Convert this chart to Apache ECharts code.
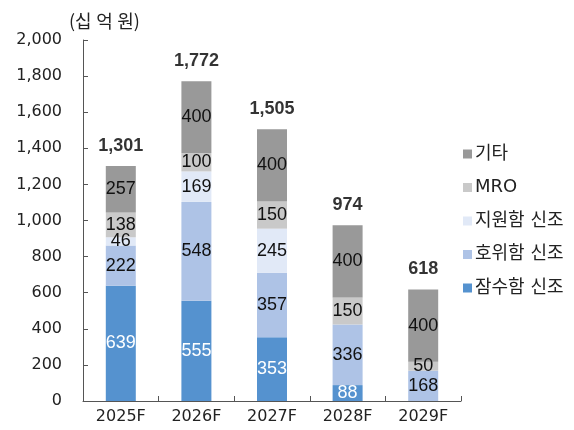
<!DOCTYPE html>
<html>
<head>
<meta charset="utf-8">
<script src="https://cdn.jsdelivr.net/npm/echarts@6/dist/echarts.min.js"></script>
<style>
  html, body { margin: 0; padding: 0; background: #fff; }
  #chart { width: 574px; height: 430px; }
</style>
</head>
<body>
<div id="chart"></div>
<script>
// 연도별 카테고리
var years = ['2025F', '2026F', '2027F', '2028F', '2029F'];

// 시리즈별 값 (십억원)
var submarine = [639, 555, 353, 88, 0];
var frigate = [222, 548, 357, 336, 168];
var support = [46, 169, 245, 0, 0];
var mro = [138, 100, 150, 150, 50];
var etc = [257, 400, 400, 400, 400];
var totals = [1301, 1772, 1505, 974, 618];

var axisFont = 'DejaVu Sans, Noto Sans CJK KR, sans-serif';
var labelFont = 'Liberation Sans, Arial, sans-serif';

var myChart = echarts.init(document.getElementById('chart'));

function seg(name, data, color, labelColor) {
  return {
    name: name,
    type: 'bar',
    stack: 'total',
    barWidth: 30,
    data: data,
    itemStyle: { color: color },
    label: {
      show: true,
      position: 'inside',
      color: labelColor,
      fontSize: 18,
      fontFamily: labelFont,
      formatter: function (p) { return p.value ? p.value : ''; }
    }
  };
}

var option = {
  animation: false,
  grid: { left: 83, right: 113, top: 40, bottom: 29, containLabel: false },
  title: {
    text: '(십\u2005억\u2005원)',
    left: 69,
    top: 12,
    padding: 0,
    textStyle: { fontSize: 18, fontWeight: 'normal', color: '#222', fontFamily: 'Noto Sans CJK KR, sans-serif' }
  },
  legend: {
    orient: 'vertical',
    left: 463,
    top: 145,
    padding: 0,
    itemWidth: 9,
    itemHeight: 9,
    itemGap: 15.5,
    icon: 'rect',
    textStyle: { fontSize: 18, color: '#222', fontFamily: axisFont, padding: [0, 0, 0, -2] },
    data: ['기타', 'MRO', '지원함 신조', '호위함 신조', '잠수함 신조']
  },
  xAxis: {
    type: 'category',
    data: years,
    axisLine: { lineStyle: { color: '#555' } },
    axisTick: { show: true, inside: true, length: 5, lineStyle: { color: '#555' } },
    axisLabel: { fontSize: 16, color: '#222', fontFamily: axisFont, margin: 8 }
  },
  yAxis: {
    type: 'value',
    min: 0,
    max: 2000,
    interval: 200,
    splitLine: { show: false },
    axisLine: { show: true, lineStyle: { color: '#555' } },
    axisTick: { show: true, inside: true, length: 5, lineStyle: { color: '#555' } },
    axisLabel: {
      fontSize: 16,
      color: '#222',
      fontFamily: axisFont,
      margin: 21,
      formatter: function (v) { return v.toLocaleString('en-US'); }
    }
  },
  series: [
    seg('잠수함 신조', submarine, '#5592cf', '#ffffff'),
    seg('호위함 신조', frigate, '#aec3e6', '#111'),
    seg('지원함 신조', support, '#e1e9f7', '#111'),
    seg('MRO', mro, '#c9c9c9', '#111'),
    seg('기타', etc, '#999999', '#111'),
    {
      name: '합계',
      type: 'scatter',
      data: totals,
      symbolSize: 0,
      silent: true,
      label: {
        show: true,
        position: 'top',
        distance: 11,
        color: '#000',
        fontSize: 18,
        fontWeight: 'bold',
        fontFamily: labelFont,
        formatter: function (p) { return p.value.toLocaleString('en-US'); }
      }
    }
  ]
};

myChart.setOption(option);
</script>
</body>
</html>
